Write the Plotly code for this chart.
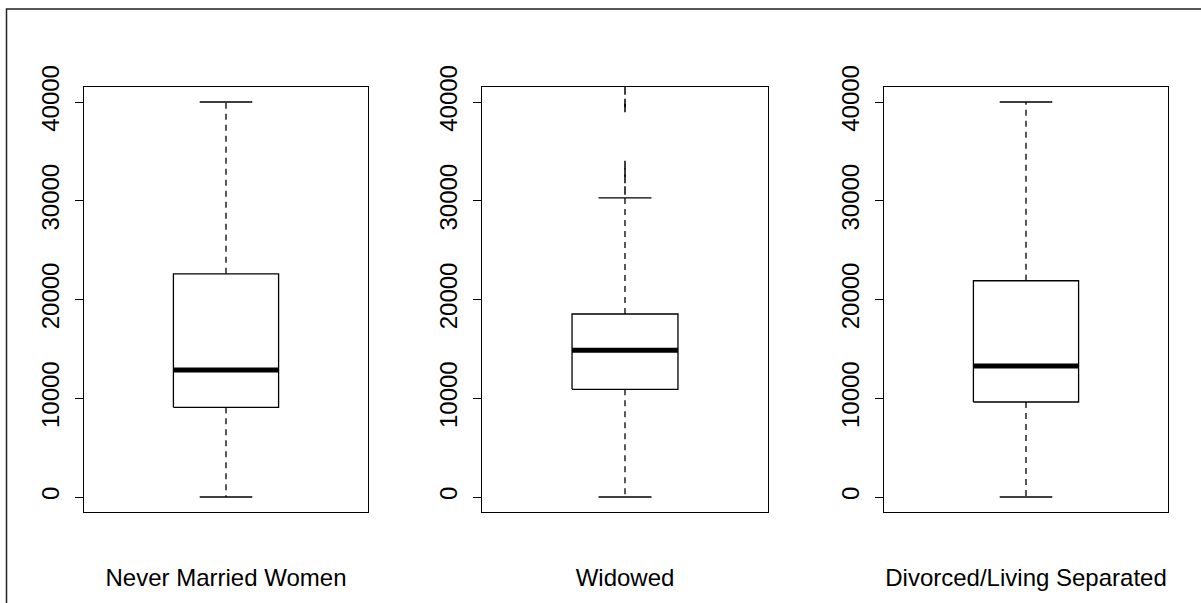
import plotly.graph_objects as go
from plotly.subplots import make_subplots

categories = ["Never Married Women", "Widowed", "Divorced/Living Separated"]
lower_whisker = [0, 0, 0]
q1 = [9080, 10900, 9620]
median = [12860, 14850, 13270]
q3 = [22600, 18530, 21900]
upper_whisker = [40000, 30300, 40000]
outliers = [[], [31040, 32200, 32860, 33620, 39400, 39900, 41160], []]
y_ticks = [0, 10000, 20000, 30000, 40000]

W, H = 1201, 603
panel_px = [(84, 368), (482, 768), (884, 1168)]
top_px, bot_px = 87, 512

fig = make_subplots(rows=1, cols=3)

half_box = 0.2
half_cap = 0.1
for i, name in enumerate(categories):
    r, c = 1, i + 1
    # box
    fig.add_trace(go.Scatter(
        x=[1 - half_box, 1 + half_box, 1 + half_box, 1 - half_box, 1 - half_box],
        y=[q1[i], q1[i], q3[i], q3[i], q1[i]],
        mode="lines", line=dict(color="black", width=1.3), hoverinfo="skip"), r, c)
    # median
    fig.add_trace(go.Scatter(
        x=[1 - half_box, 1 + half_box], y=[median[i], median[i]],
        mode="lines", line=dict(color="black", width=5), hoverinfo="skip"), r, c)
    # whiskers
    fig.add_trace(go.Scatter(
        x=[1, 1], y=[q3[i], upper_whisker[i]], mode="lines",
        line=dict(color="black", width=1.3, dash="6px,5px"), hoverinfo="skip"), r, c)
    fig.add_trace(go.Scatter(
        x=[1, 1], y=[q1[i], lower_whisker[i]], mode="lines",
        line=dict(color="black", width=1.3, dash="6px,5px"), hoverinfo="skip"), r, c)
    # caps
    for v in (upper_whisker[i], lower_whisker[i]):
        fig.add_trace(go.Scatter(
            x=[1 - half_cap, 1 + half_cap], y=[v, v], mode="lines",
            line=dict(color="black", width=1.3), hoverinfo="skip"), r, c)
    # outliers
    if outliers[i]:
        fig.add_trace(go.Scatter(
            x=[1] * len(outliers[i]), y=outliers[i], mode="markers",
            marker=dict(symbol="line-ns", size=6, color="black",
                        line=dict(color="black", width=1.5)),
            hoverinfo="skip"), r, c)

    x0, x1 = panel_px[i]
    xa = "xaxis" if i == 0 else f"xaxis{i+1}"
    ya = "yaxis" if i == 0 else f"yaxis{i+1}"
    fig.layout[xa].update(
        domain=[x0 / W, x1 / W], range=[0.46, 1.54], showgrid=False, zeroline=False,
        showline=True, mirror=True, linecolor="black", linewidth=1.3,
        ticks="", tickvals=[1], ticktext=[name], ticklabelstandoff=44,
        automargin=False,
        tickfont=dict(family="Liberation Sans, Arial", size=24, color="black"))
    fig.layout[ya].update(
        domain=[1 - bot_px / H, 1 - top_px / H], range=[-1519, 41519],
        showgrid=False, zeroline=False, showline=True, mirror=True,
        linecolor="black", linewidth=1.3, ticks="outside", ticklen=8,
        tickwidth=1.3, tickcolor="black", tickvals=y_ticks,
        ticktext=[str(v) for v in y_ticks], tickangle=-90, ticklabelstandoff=6,
        automargin=False,
        tickfont=dict(family="Liberation Sans, Arial", size=24, color="black"))

fig.add_shape(type="rect", xref="paper", yref="paper",
              x0=6.5 / W, x1=1.02, y0=-0.02, y1=1 - 9 / H,
              line=dict(color="#222222", width=1.5))

fig.update_layout(width=W, height=H, margin=dict(l=0, r=0, t=0, b=0, autoexpand=False),
                  paper_bgcolor="white", plot_bgcolor="white", showlegend=False)

fig.write_html("out.html")
